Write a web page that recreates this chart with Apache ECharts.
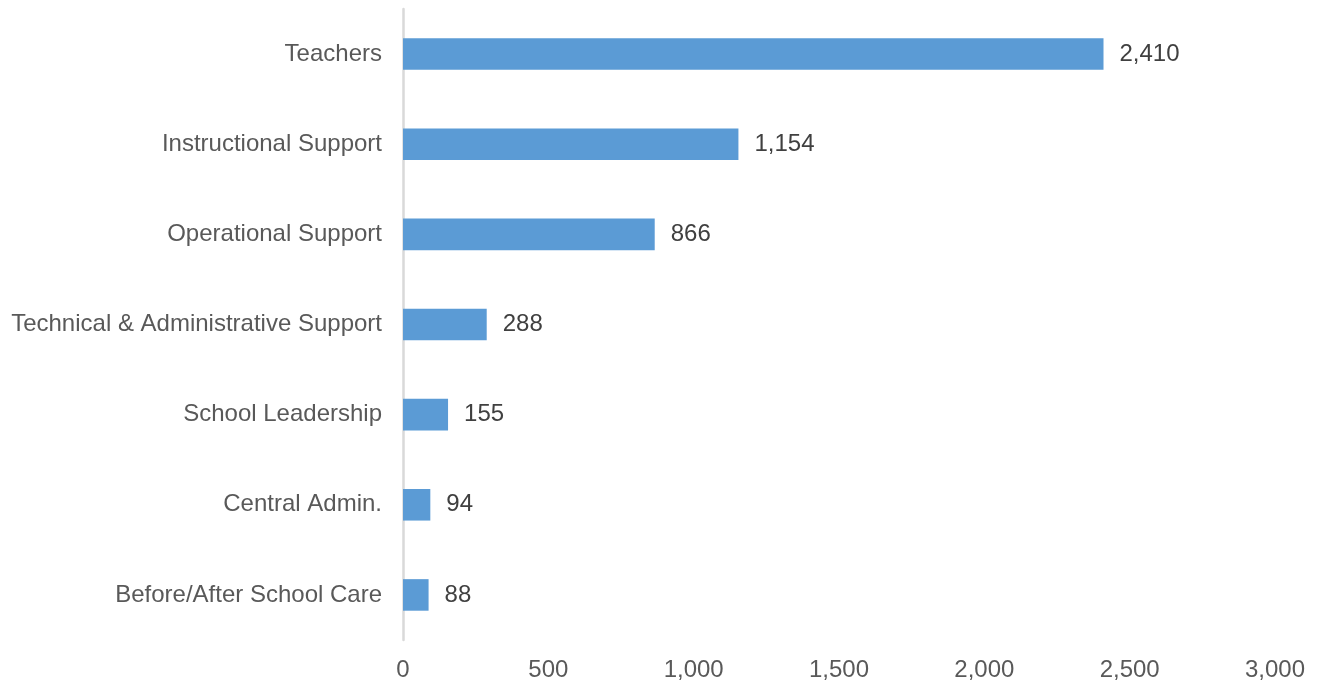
<!DOCTYPE html>
<html>
<head>
<meta charset="utf-8">
<script src="https://cdn.jsdelivr.net/npm/echarts@6/dist/echarts.min.js"></script>
<style>
  html, body { margin: 0; padding: 0; background: #fff; }
  #chart { width: 1319px; height: 683px; }
</style>
</head>
<body>
<div id="chart"></div>
<script>
// Staff counts by role, listed top to bottom
const categories = [
  'Teachers',
  'Instructional Support',
  'Operational Support',
  'Technical & Administrative Support',
  'School Leadership',
  'Central Admin.',
  'Before/After School Care'
];
const staffCounts = [2410, 1154, 866, 288, 155, 94, 88];

const fmt = v => v.toLocaleString('en-US');
const font = 'Liberation Sans, Arial, sans-serif';

const chart = echarts.init(document.getElementById('chart'));
chart.setOption({
  animation: false,
  grid: { left: 403, right: 44, top: 9, bottom: 43, containLabel: false },
  xAxis: {
    type: 'value',
    min: 0,
    max: 3000,
    interval: 500,
    axisLine: { show: false },
    axisTick: { show: false },
    splitLine: { show: false },
    axisLabel: {
      color: '#595959',
      fontFamily: font,
      fontSize: 24,
      margin: 18,
      formatter: v => fmt(v)
    }
  },
  yAxis: {
    type: 'category',
    inverse: true,
    data: categories,
    axisLine: { show: true, lineStyle: { color: '#d9d9d9', width: 2.5 } },
    axisTick: { show: false },
    axisLabel: {
      color: '#595959',
      fontFamily: font,
      fontSize: 24,
      margin: 21
    }
  },
  series: [{
    type: 'bar',
    data: staffCounts,
    barWidth: '35%',
    itemStyle: { color: '#5b9bd5' },
    label: {
      show: true,
      position: 'right',
      distance: 16,
      color: '#404040',
      fontFamily: font,
      fontSize: 24,
      formatter: p => fmt(p.value)
    }
  }]
});
</script>
</body>
</html>
